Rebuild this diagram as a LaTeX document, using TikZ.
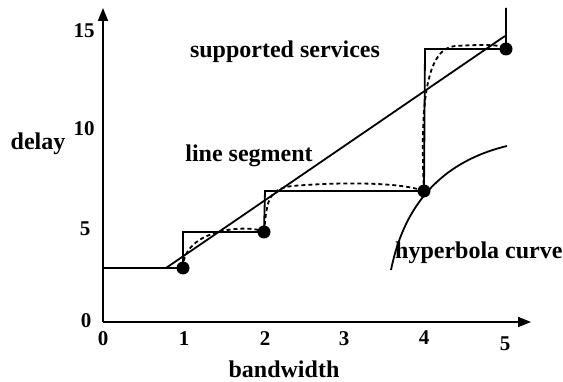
\documentclass[tikz,border=0pt]{standalone}
\usepackage{fontspec}
\setmainfont{Liberation Serif}
\usepackage{tikz}
\usetikzlibrary{arrows.meta,positioning}

\begin{document}
\begin{tikzpicture}[x=1pt, y=-1pt,
        every node/.style={font=\fontsize{24}{26}\selectfont\bfseries, inner sep=0pt},
        tick/.style={font=\fontsize{21}{23}\selectfont\bfseries, inner sep=0pt},
        axis/.style={line width=1.8pt, -{Triangle[length=13pt, width=10pt]}},
        curve/.style={line width=1.8pt},
        approx/.style={line width=1.8pt, dash pattern=on 4pt off 3pt},
        pt/.style={circle, fill=black, minimum size=13pt, inner sep=0pt}
    ]
    \useasboundingbox (0,0) rectangle (563,382);

    % axes
    \coordinate (o) at (103,322);
    \coordinate (ytop) at (103,8);
    \coordinate (xend) at (531,322);
    \draw[axis] (o) -- (ytop);
    \draw[axis] (o) -- (xend);

    % tick labels
    \node[tick] (x0) at (103,339) {0};
    \node[tick] (x1) at (184,339) {1};
    \node[tick] (x2) at (265,339) {2};
    \node[tick] (x3) at (344,339) {3};
    \node[tick] (x4) at (424,338) {4};
    \node[tick] (x5) at (505,344) {5};
    \node[tick] (y0) at (86,321) {0};
    \node[tick] (y5) at (85,229) {5};
    \node[tick] (y10) at (84,129) {10};
    \node[tick] (y15) at (84,31) {15};
    \node (xlab) at (284,369) {bandwidth};
    \node (ylab) at (38,144) {delay};

    % supported services
    \node[pt] (p1) at (183,268) {};
    \node[pt] (p2) at (264,232) {};
    \node[pt] (p3) at (424,191) {};
    \node[pt] (p4) at (506,49) {};
    \coordinate (s0) at (103,268);
    \coordinate (s1) at (183,232);
    \coordinate (s2) at (265,191);
    \coordinate (s3) at (425,49);
    \coordinate (s4) at (506,8);
    \draw[curve] (s0) -- (p1.center) -- (s1) -- (p2.center) -- (s2) -- (p3.center)
        -- (s3) -- (p4.center) -- (s4);

    % line segment
    \coordinate (l0) at (166,268);
    \coordinate (l1) at (505,36);
    \draw[curve] (l0) -- (l1);

    % dashed approximation
    \draw[approx] (p1.center) .. controls (183,228) and (250,224) .. (p2.center);
    \draw[approx] (p2.center) .. controls (267,205) and (266,189) .. (292,186)
        .. controls (340,182) and (400,182) .. (p3.center);
    \draw[approx] (p3.center) .. controls (420,110) and (425,48) .. (455,46)
        .. controls (490,44) and (502,45) .. (p4.center);

    % hyperbola curve
    \coordinate (h0) at (391,270);
    \coordinate (h1) at (507,146);
    \draw[curve] (h0) .. controls (407,190) and (457,158) .. (h1);

    % labels
    \node (svc) at (285,52) {supported services};
    \node (seg) at (249,156) {line segment};
    \node[anchor=west] (hyp) at (395,253) {hyperbola curve};
\end{tikzpicture}
\end{document}
